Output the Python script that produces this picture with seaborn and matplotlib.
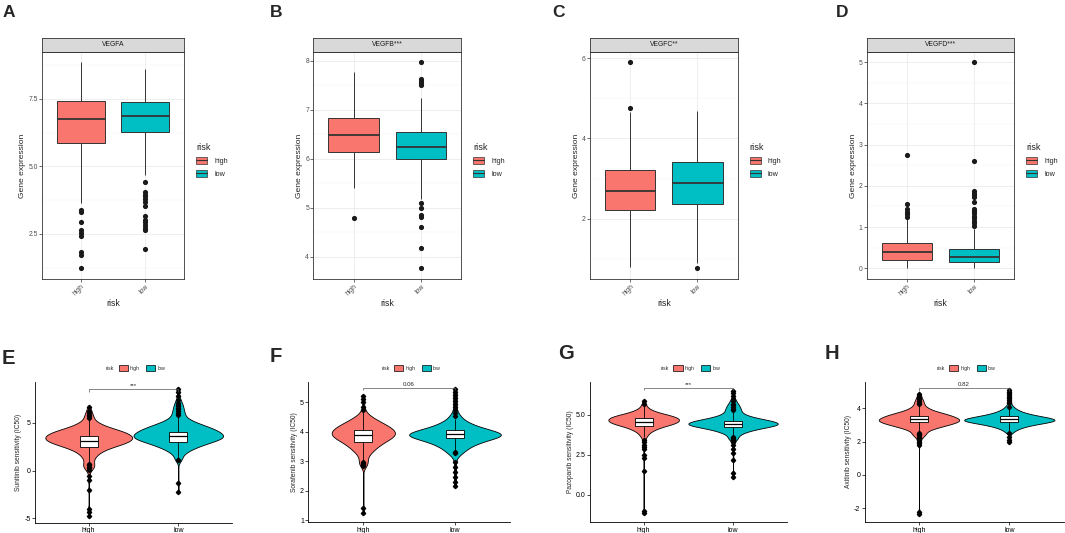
import numpy as np
import pandas as pd
import matplotlib
matplotlib.use("Agg")
import matplotlib.pyplot as plt
import seaborn as sns
from matplotlib.patches import Patch
from matplotlib.lines import Line2D
from matplotlib.legend_handler import HandlerTuple
from matplotlib.ticker import FixedLocator, MultipleLocator, FormatStrFormatter

# ---------------------------------------------------------------- data
ORDER = ["high", "low"]

# top row: gene expression boxplots  (q1, median, q3), (lower, upper whisker), outliers
TOP_TITLES = ["VEGFA", "VEGFB***", "VEGFC**", "VEGFD***"]

A_high_box = [5.88, 6.76, 7.44]
A_high_whisk = [3.65, 8.88]
A_high_out = [3.40, 3.31, 2.94, 2.65, 2.53, 2.41, 1.83, 1.73, 1.23]
A_low_box = [6.28, 6.88, 7.40]
A_low_whisk = [4.69, 8.60]
A_low_out = [4.41, 4.04, 3.95, 3.89, 3.79, 3.70, 3.52, 3.17, 3.02, 2.93, 2.84, 2.72, 2.65, 1.94]

B_high_box = [6.15, 6.49, 6.84]
B_high_whisk = [5.40, 7.78]
B_high_out = [4.80]
B_low_box = [5.99, 6.24, 6.54]
B_low_whisk = [5.18, 7.25]
B_low_out = [7.98, 7.63, 7.59, 7.55, 7.50, 5.11, 4.99, 4.86, 4.81, 4.61, 4.18, 3.77]

C_high_box = [2.22, 2.69, 3.21]
C_high_whisk = [0.78, 4.67]
C_high_out = [4.77, 5.92]
C_low_box = [2.37, 2.90, 3.40]
C_low_whisk = [0.88, 4.69]
C_low_out = [0.76]

D_high_box = [0.21, 0.39, 0.62]
D_high_whisk = [0.01, 1.22]
D_high_out = [2.75, 1.57, 1.43, 1.37, 1.31, 1.25]
D_low_box = [0.15, 0.27, 0.48]
D_low_whisk = [0.0, 0.96]
D_low_out = [5.0, 2.60, 1.88, 1.83, 1.77, 1.73, 1.60, 1.44, 1.39, 1.33, 1.27, 1.21, 1.15, 1.09, 1.03]

# bottom row: drug sensitivity violins
DRUGS = ["Sunitinib", "Sorafenib", "Pazopanib", "Axitinib"]
PVALS = ["***", "0.06", "***", "0.82"]

E_high_vals = [6.5, 6.25, 6.0, 5.75, 5.5, 5.25, 5.0, 4.75, 4.5, 4.25, 4.0, 3.75, 3.5, 3.25,
               3.0, 2.75, 2.5, 2.25, 2.0, 1.75, 1.5, 1.25, 1.0, 0.75, 0.5, 0.25, 0.0]
E_high_counts = [1, 1, 1, 2, 2, 4, 7, 10, 15, 21, 27, 30, 32, 32,
                 29, 24, 18, 13, 9, 7, 5, 4, 3, 3, 3, 2, 1]
E_high_box = [2.49, 3.08, 3.64]
E_high_whisk = [0.80, 5.35]
E_high_out = [6.6, 6.2, 6.0, 5.8, 5.65, 5.5, 0.7, 0.55, 0.4, 0.25, 0.1, -0.6, -1.0, -2.0, -4.0, -4.3, -4.75]
E_low_vals = [7.5, 7.25, 7.0, 6.75, 6.5, 6.25, 6.0, 5.75, 5.5, 5.25, 5.0, 4.75, 4.5, 4.25,
              4.0, 3.75, 3.5, 3.25, 3.0, 2.75, 2.5, 2.25, 2.0, 1.75, 1.5, 1.25, 1.0]
E_low_counts = [1, 1, 2, 2, 2, 3, 3, 4, 6, 9, 13, 18, 23, 27,
                30, 32, 34, 30, 24, 19, 14, 10, 7, 4, 3, 2, 1]
E_low_box = [2.94, 3.57, 4.06]
E_low_whisk = [1.30, 5.70]
E_low_out = [8.5, 8.2, 7.8, 7.4, 7.1, 6.9, 6.7, 6.55, 6.4, 6.2, 6.05, 5.85, 1.15, 1.05, -1.35, -2.2]

F_high_vals = [4.7, 4.6, 4.5, 4.4, 4.3, 4.2, 4.1, 4.0, 3.9, 3.8, 3.7, 3.6, 3.5, 3.4,
               3.3, 3.2, 3.1, 3.0, 2.9, 2.8]
F_high_counts = [2, 4, 9, 13, 19, 24, 29, 31, 32, 28, 23, 18, 14, 11, 8, 5, 4, 3, 2, 1]
F_high_box = [3.64, 3.89, 4.06]
F_high_whisk = [3.02, 4.68]
F_high_out = [5.2, 5.1, 5.0, 4.85, 4.75, 2.98, 2.95, 2.9, 2.87, 2.84, 1.4, 1.25]
F_low_vals = [4.6, 4.5, 4.4, 4.3, 4.2, 4.1, 4.0, 3.9, 3.8, 3.7, 3.6, 3.5, 3.4, 3.3, 3.2, 3.1]
F_low_counts = [2, 3, 6, 9, 13, 20, 27, 35, 27, 19, 14, 10, 7, 4, 2, 1]
F_low_box = [3.78, 3.91, 4.05]
F_low_whisk = [3.38, 4.45]
F_low_out = [5.45, 5.35, 5.25, 5.15, 5.05, 4.95, 4.85, 4.75, 4.65, 4.55,
             3.3, 3.27, 2.98, 2.81, 2.64, 2.47, 2.3, 2.17]

G_high_vals = [5.7, 5.6, 5.5, 5.4, 5.3, 5.2, 5.1, 5.0, 4.9, 4.8, 4.7, 4.6, 4.5, 4.4,
               4.3, 4.2, 4.1, 4.0, 3.9, 3.8, 3.7, 3.6, 3.5]
G_high_counts = [1, 2, 3, 4, 7, 10, 15, 21, 26, 29, 30, 29, 27, 23, 17, 13, 10, 7, 5, 4, 3, 2, 1]
G_high_box = [4.33, 4.58, 4.83]
G_high_whisk = [3.60, 5.55]
G_high_out = [5.85, 5.7, 3.45, 3.3, 3.15, 3.0, 2.9, 2.5, 2.3, 1.5, -1.0, -1.15]
G_low_vals = [6.0, 5.9, 5.8, 5.7, 5.6, 5.5, 5.4, 5.3, 5.2, 5.1, 5.0, 4.9, 4.8, 4.7,
              4.6, 4.5, 4.4, 4.3, 4.2, 4.1, 4.0, 3.9, 3.8, 3.7, 3.6, 3.5]
G_low_counts = [1, 1, 2, 2, 3, 3, 4, 4, 5, 6, 8, 11, 15, 21, 26, 29, 30, 25, 19, 14, 10, 7, 5, 3, 2, 1]
G_low_box = [4.23, 4.42, 4.63]
G_low_whisk = [3.65, 5.20]
G_low_out = [6.5, 6.35, 6.2, 6.0, 5.85, 5.7, 5.6, 5.5, 5.4, 5.3,
             3.6, 3.55, 3.5, 3.45, 3.4, 3.3, 3.15, 2.9, 2.6, 2.2, 1.35, 1.15]

H_high_vals = [4.7, 4.6, 4.5, 4.4, 4.3, 4.2, 4.1, 4.0, 3.9, 3.8, 3.7, 3.6, 3.5, 3.4,
               3.3, 3.2, 3.1, 3.0, 2.9, 2.8, 2.7, 2.6, 2.5, 2.4, 2.3, 2.2]
H_high_counts = [1, 1, 2, 2, 3, 3, 5, 7, 9, 13, 18, 22, 25, 28, 30, 28, 25, 20, 16, 11, 8, 5, 4, 3, 2, 1]
H_high_box = [3.16, 3.36, 3.56]
H_high_whisk = [2.58, 4.15]
H_high_out = [4.85, 4.75, 4.65, 4.55, 4.45, 4.35, 4.25,
              2.5, 2.45, 2.4, 2.3, 2.2, 2.1, 2.0, 1.9, 1.8, -2.2, -2.35]
H_low_vals = [4.2, 4.1, 4.0, 3.9, 3.8, 3.7, 3.6, 3.5, 3.4, 3.3, 3.2, 3.1, 3.0, 2.9, 2.8, 2.7, 2.6, 2.5]
H_low_counts = [1, 2, 3, 5, 7, 10, 14, 20, 25, 30, 25, 19, 13, 9, 6, 4, 2, 1]
H_low_box = [3.16, 3.34, 3.52]
H_low_whisk = [2.65, 4.05]
H_low_out = [5.1, 5.0, 4.9, 4.8, 4.7, 4.6, 4.5, 4.4, 4.3, 4.1, 2.55, 2.3, 2.1, 2.0]

# ---------------------------------------------------------------- style / layout
PAL = {"high": "#F8766D", "low": "#00BFC4"}
W, H = 1065, 533
FONT = ["Liberation Sans", "DejaVu Sans"]

TOP_RECTS = [(42, 52, 184, 279), (313.3, 52, 461, 279), (590, 52, 737.7, 279), (866.7, 52, 1014, 279)]
TOP_YLIM = [(0.83, 9.24), (3.55, 8.18), (0.49, 6.16), (-0.26, 5.25)]
TOP_YTICKS = [[2.5, 5.0, 7.5], [4, 5, 6, 7, 8], [2, 4, 6], [0, 1, 2, 3, 4, 5]]
TOP_FMT = ["%.1f", "%g", "%g", "%g"]
TOP_MINOR = [1.25, 0.5, 1.0, 0.5]
TOP_LETTERS = [("A", 3), ("B", 270), ("C", 552), ("D", 836)]

BOT_RECTS = [(35, 381.7, 232, 523), (308.3, 381.7, 510, 522.3), (590, 381.7, 786.7, 522.3),
             (864.8, 381.7, 1063.5, 522.3)]
BOT_YLIM = [(-5.49, 9.29), (0.93, 5.70), (-1.71, 7.08), (-2.84, 5.6)]
BOT_YTICKS = [[-5, 0, 5], [1, 2, 3, 4, 5], [0.0, 2.5, 5.0], [-2, 0, 2, 4]]
BOT_FMT = ["%g", "%g", "%.1f", "%g"]
BOT_LETTERS = [("E", 2, 349), ("F", 270, 347), ("G", 558, 344), ("H", 825, 344)]
BRACKET_Y = [8.52, 5.50, 6.71, 5.24]
KDE_BW = [0.30, 0.11, 0.12, 0.11]
VIOLIN_W = [(0.97, 1.0), (0.69, 1.0), (0.79, 1.0), (0.89, 1.0)]

sns.set_theme(style="white")
plt.rcParams["font.family"] = FONT
plt.rcParams["axes.unicode_minus"] = False

fig = plt.figure(figsize=(W / 100, H / 100), dpi=100)


def rect(x0, y0, x1, y1):
    return [x0 / W, 1 - y1 / H, (x1 - x0) / W, (y1 - y0) / H]


def box_sample(box, whisk, outliers):
    q1, med, q3 = box
    lo, hi = whisk
    low_out = sorted(o for o in outliers if o < q1)
    high_out = sorted(o for o in outliers if o > q3)
    k = max(len(low_out), len(high_out)) + 1
    return (low_out + [lo] + [q1] * (k - len(low_out)) + [q1] * (k - 1) + [med] * k
            + [q3] * (k - len(high_out)) + [hi] + high_out)


top_sets = [
    (A_high_box, A_high_whisk, A_high_out, A_low_box, A_low_whisk, A_low_out),
    (B_high_box, B_high_whisk, B_high_out, B_low_box, B_low_whisk, B_low_out),
    (C_high_box, C_high_whisk, C_high_out, C_low_box, C_low_whisk, C_low_out),
    (D_high_box, D_high_whisk, D_high_out, D_low_box, D_low_whisk, D_low_out),
]

GRAY20 = "#333333"
GRAY30 = "#4D4D4D"

for i, st in enumerate(top_sets):
    x0, y0, x1, y1 = TOP_RECTS[i]
    ax = fig.add_axes(rect(x0, y0, x1, y1))
    hs = box_sample(st[0], st[1], st[2])
    ls = box_sample(st[3], st[4], st[5])
    df = pd.DataFrame({"risk": ["high"] * len(hs) + ["low"] * len(ls), "expr": hs + ls})
    sns.boxplot(data=df, x="risk", y="expr", hue="risk", order=ORDER, hue_order=ORDER,
                palette=PAL, saturation=1, width=0.75, dodge=False, linecolor=GRAY20,
                linewidth=0.7, fliersize=2.7,
                flierprops=dict(marker="o", markerfacecolor="#1A1A1A", markeredgecolor="#1A1A1A"),
                medianprops=dict(linewidth=1.3), showcaps=False, legend=False, ax=ax)
    ax.set_xlim(-0.6, 1.6)
    ax.set_ylim(*TOP_YLIM[i])
    ax.yaxis.set_major_locator(FixedLocator(TOP_YTICKS[i]))
    ax.yaxis.set_major_formatter(FormatStrFormatter(TOP_FMT[i]))
    ax.yaxis.set_minor_locator(MultipleLocator(TOP_MINOR[i]))
    ax.set_facecolor("white")
    ax.grid(which="major", color="#EBEBEB", linewidth=0.6)
    ax.grid(which="minor", axis="y", color="#F4F4F4", linewidth=0.35)
    ax.set_axisbelow(True)
    for s in ax.spines.values():
        s.set_visible(True)
        s.set_color(GRAY20)
        s.set_linewidth(0.6)
    ax.tick_params(which="major", length=2, width=0.5, color=GRAY20, labelsize=4.9,
                   labelcolor=GRAY30, pad=1, bottom=True, left=True)
    ax.tick_params(which="minor", length=0)
    for lab in ax.get_xticklabels():
        lab.set_rotation(45)
        lab.set_ha("right")
        lab.set_rotation_mode("anchor")
    ax.set_xlabel("risk", fontsize=6.3, labelpad=1)
    ax.set_ylabel("Gene expression", fontsize=6.1, labelpad=1.5)

    sax = fig.add_axes(rect(x0, 38, x1, 52))
    sax.set_facecolor("#D9D9D9")
    sax.set_xticks([])
    sax.set_yticks([])
    for s in sax.spines.values():
        s.set_visible(True)
        s.set_color(GRAY20)
        s.set_linewidth(0.6)
    sax.text(0.5, 0.5, TOP_TITLES[i], ha="center", va="center", fontsize=4.9,
             color="#1A1A1A", transform=sax.transAxes)

    handles = [(Patch(facecolor=PAL[g], edgecolor=GRAY20, linewidth=0.5),
                Line2D([], [], color=GRAY20, linewidth=0.8)) for g in ORDER]
    ax.legend(handles, ORDER, title="risk", handler_map={tuple: HandlerTuple()},
              loc="upper left", bbox_to_anchor=((x1 + 12) / W, 1 - 143 / H),
              bbox_transform=fig.transFigure, frameon=False, fontsize=5.2, title_fontsize=6.6,
              handlelength=1.5, handleheight=1.1, handletextpad=1.0, labelspacing=0.7,
              borderpad=0, borderaxespad=0, alignment="left")
    L, lx = TOP_LETTERS[i]
    fig.text(lx / W, 1 - 5 / H, L, fontsize=12.5, fontweight="bold", va="top", ha="left")

bot_sets = [
    ((E_high_vals, E_high_counts, E_high_box, E_high_whisk, E_high_out),
     (E_low_vals, E_low_counts, E_low_box, E_low_whisk, E_low_out)),
    ((F_high_vals, F_high_counts, F_high_box, F_high_whisk, F_high_out),
     (F_low_vals, F_low_counts, F_low_box, F_low_whisk, F_low_out)),
    ((G_high_vals, G_high_counts, G_high_box, G_high_whisk, G_high_out),
     (G_low_vals, G_low_counts, G_low_box, G_low_whisk, G_low_out)),
    ((H_high_vals, H_high_counts, H_high_box, H_high_whisk, H_high_out),
     (H_low_vals, H_low_counts, H_low_box, H_low_whisk, H_low_out)),
]

for i, groups in enumerate(bot_sets):
    x0, y0, x1, y1 = BOT_RECTS[i]
    ax = fig.add_axes(rect(x0, y0, x1, y1))
    for j, g in enumerate(ORDER):
        vals, counts, box, whisk, outs = groups[j]
        sample = np.concatenate([np.repeat(vals, counts), np.asarray(outs, float)])
        sns.violinplot(x=[g] * len(sample), y=sample, order=ORDER, color=PAL[g], saturation=1,
                       cut=0, inner=None, density_norm="width", width=VIOLIN_W[i][j],
                       linewidth=0.6, linecolor="black", bw_method=KDE_BW[i] / sample.std(),
                       gridsize=400, ax=ax)
    for j, g in enumerate(ORDER):
        vals, counts, box, whisk, outs = groups[j]
        bs = box_sample(box, whisk, outs)
        sns.boxplot(x=[g] * len(bs), y=bs, order=ORDER, color="white", saturation=1, width=0.2,
                    linecolor="black", linewidth=0.6, fliersize=2.2,
                    flierprops=dict(marker="D", markerfacecolor="black", markeredgecolor="black"),
                    medianprops=dict(linewidth=0.9), showcaps=False, ax=ax)
    ax.set_xlim(-0.6, 1.6)
    ylo, yhi = BOT_YLIM[i]
    ax.set_ylim(ylo, yhi)
    ax.yaxis.set_major_locator(FixedLocator(BOT_YTICKS[i]))
    ax.yaxis.set_major_formatter(FormatStrFormatter(BOT_FMT[i]))
    ax.set_facecolor("white")
    ax.grid(False)
    for s in ["top", "right"]:
        ax.spines[s].set_visible(False)
    for s in ["left", "bottom"]:
        ax.spines[s].set_visible(True)
        ax.spines[s].set_color("black")
        ax.spines[s].set_linewidth(0.6)
    ax.tick_params(length=2.2, width=0.5, color="black", labelsize=5.0, labelcolor="black",
                   pad=1, bottom=True, left=True)
    ax.set_xlabel("")
    ax.set_ylabel(f"{DRUGS[i]} sensitivity (IC50)", fontsize=4.8, labelpad=1.5)

    rng = yhi - ylo
    by = BRACKET_Y[i]
    ax.plot([0, 0, 1, 1], [by - 0.02 * rng, by, by, by - 0.02 * rng], color="#555555",
            linewidth=0.5, solid_capstyle="butt")
    ax.text(0.5, by + 0.004 * rng, PVALS[i], ha="center", va="bottom", fontsize=4.4)

    cx = (x0 + x1) / 2
    fig.text((cx - 28) / W, 1 - 368 / H, "risk", fontsize=3.8, va="center", ha="left")
    handles = [Patch(facecolor=PAL[g], edgecolor="black", linewidth=0.5) for g in ORDER]
    ax.legend(handles, ORDER, ncol=2, loc="center left",
              bbox_to_anchor=((cx - 15) / W, 1 - 368 / H), bbox_transform=fig.transFigure,
              frameon=False, fontsize=3.7, handlelength=1.8, handleheight=1.4,
              handletextpad=0.4, columnspacing=1.2, borderpad=0, borderaxespad=0)
    L, lx, ly = BOT_LETTERS[i]
    fig.text(lx / W, 1 - ly / H, L, fontsize=14.5, fontweight="bold", va="top", ha="left")

fig.savefig("out.png", dpi=100)
